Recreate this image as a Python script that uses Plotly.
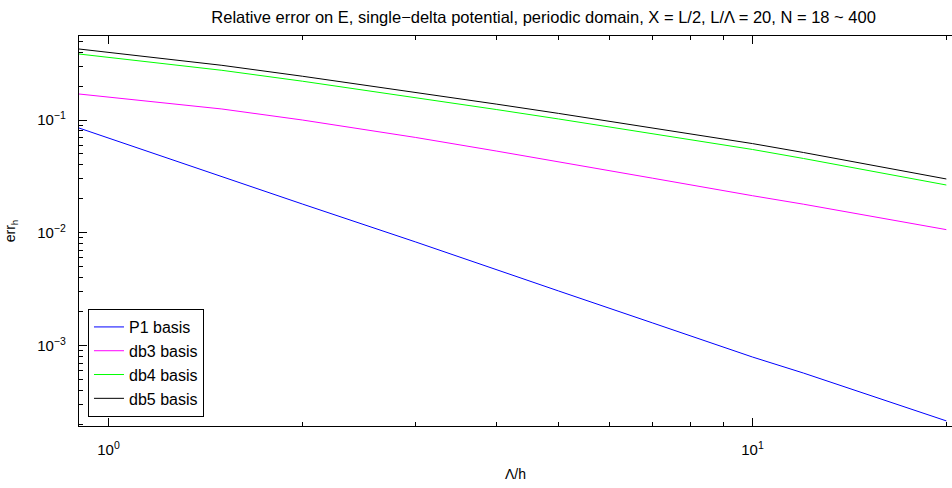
import plotly.graph_objects as go
import math

x_vals = [0.9, 1.5, 2, 3, 4, 5, 7, 10, 12, 20]
p1_err = [0.0849, 0.03125, 0.0180, 0.00829, 0.00468, 0.00305, 0.001587, 0.000792, 0.000571, 0.000215]
db3_err = [0.170, 0.1252, 0.100, 0.0700, 0.0531, 0.04269, 0.03048, 0.02132, 0.01793, 0.01067]
db4_err = [0.3847, 0.2758, 0.2208, 0.1587, 0.1239, 0.1021, 0.0759, 0.0548, 0.0456, 0.02653]
db5_err = [0.426, 0.3053, 0.2444, 0.1764, 0.1384, 0.1144, 0.0853, 0.0618, 0.0515, 0.0300]

series_names = ["P1 basis", "db3 basis", "db4 basis", "db5 basis"]
series_colors = ["#0000ff", "#ff00ff", "#00ff00", "#000000"]

x_major = [1, 10]
x_major_text = ["10<sup>0</sup>", "10<sup>1</sup>"]
x_minor = [2, 3, 4, 5, 6, 7, 8, 9, 20]
y_major = [1e-3, 1e-2, 1e-1]
y_major_text = ["10<sup>−3</sup>", "10<sup>−2</sup>", "10<sup>−1</sup>"]
y_minor = [m * 10.0 ** e for e in (-4, -3, -2, -1) for m in range(2, 10)]

title_text = "Relative error on E, single−delta potential, periodic domain, X = L/2, L/Λ = 20, N = 18 ~ 400"

fig = go.Figure()
for name, col, ys in zip(series_names, series_colors, [p1_err, db3_err, db4_err, db5_err]):
    fig.add_trace(go.Scatter(x=x_vals, y=ys, mode="lines", name=name,
                             line=dict(color=col, width=1)))

font_family = "Liberation Sans, Arial, sans-serif"
fig.update_layout(
    width=952, height=488,
    margin=dict(l=79, r=0, t=36, b=62),
    paper_bgcolor="white", plot_bgcolor="white",
    font=dict(family=font_family, color="#000000", size=14),
    title=dict(text=title_text, x=0.571, xanchor="center", y=0.965, yanchor="middle",
               font=dict(size=16.5, family=font_family, color="#000000")),
    showlegend=True,
    legend=dict(x=0.0103, y=0.023, xanchor="left", yanchor="bottom",
                bgcolor="white", bordercolor="#000000", borderwidth=1,
                font=dict(size=16, family=font_family), tracegroupgap=0),
)
fig.update_xaxes(
    type="log", range=[math.log10(0.9), math.log10(0.9) + 873 / 644],
    showgrid=False, zeroline=False,
    showline=True, linecolor="#000000", linewidth=1.3, mirror="ticks",
    ticks="inside", ticklen=8, tickcolor="#000000", tickwidth=1,
    tickmode="array", tickvals=x_major, ticktext=x_major_text,
    tickfont=dict(size=15), ticklabelstandoff=10,
    minor=dict(tickmode="array", tickvals=x_minor, ticks="inside", ticklen=4,
               tickcolor="#000000", tickwidth=1, showgrid=False),
    title=dict(text="Λ/h", font=dict(size=14), standoff=12),
)
fig.update_yaxes(
    type="log", range=[-0.2553 - 390 / 112.8, -0.2553],
    showgrid=False, zeroline=False,
    showline=True, linecolor="#000000", linewidth=1.3, mirror=False,
    ticks="inside", ticklen=8, tickcolor="#000000", tickwidth=1,
    tickmode="array", tickvals=y_major, ticktext=y_major_text,
    tickfont=dict(size=15), ticklabelstandoff=9,
    minor=dict(tickmode="array", tickvals=y_minor, ticks="inside", ticklen=4,
               tickcolor="#000000", tickwidth=1, showgrid=False),
    title=dict(text="err<sub>h</sub>", font=dict(size=14), standoff=18),
)

fig.write_html("out.html", config={"displayModeBar": False},
               post_script="document.body.style.margin='0';")
